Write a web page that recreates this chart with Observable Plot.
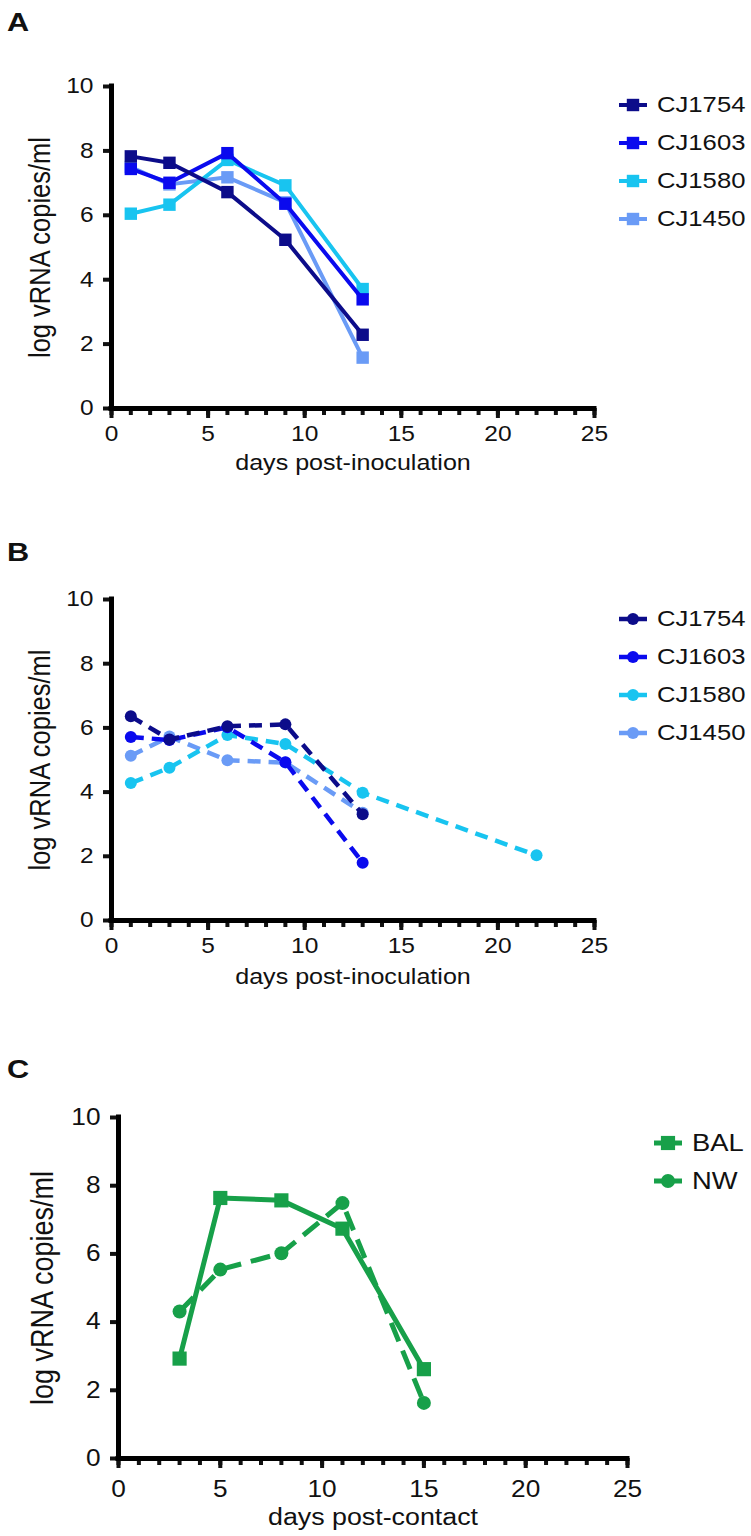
<!DOCTYPE html>
<html><head><meta charset="utf-8">
<script src="https://cdn.jsdelivr.net/npm/d3@7"></script>
<script src="https://cdn.jsdelivr.net/npm/@observablehq/plot@0.6"></script>
<style>
body{margin:0;background:#fff;font-family:"Liberation Sans",Arial,Helvetica,sans-serif;color:#111;}
#page{position:relative;width:751px;height:1536px;overflow:hidden;background:#fff;}
.panel{position:absolute;left:0;}
.letter{position:absolute;font-weight:bold;font-size:26px;line-height:1;transform:scaleX(1.18);transform-origin:left top;}
.legend{position:absolute;}
.legend .row{display:flex;align-items:center;height:38px;}
.legend .row span{display:inline-block;transform:scaleX(1.14);transform-origin:left center;white-space:nowrap;}
.legend svg{display:block;margin-right:10px;}
</style></head><body><div id="page"></div>
<script>
// ---------- data ----------
const xTicks = [0, 5, 10, 15, 20, 25];
const yTicks = [0, 2, 4, 6, 8, 10];
const animals = ["CJ1754", "CJ1603", "CJ1580", "CJ1450"];
const animalColors = ["#0c0c8a", "#0a0aee", "#18c4f0", "#6a9bf6"];

// Panel A (days post-inoculation, solid squares)
const daysA = [1, 3, 6, 9, 13];
const A_CJ1754 = [7.83, 7.63, 6.72, 5.24, 2.29];
const A_CJ1603 = [7.44, 7.01, 7.93, 6.36, 3.39];
const A_CJ1580 = [6.05, 6.33, 7.72, 6.93, 3.71];
const A_CJ1450 = [7.50, 6.96, 7.18, 6.40, 1.58];

// Panel B (days post-inoculation, dashed circles)
const daysB = [1, 3, 6, 9, 13];
const daysB_CJ1580 = [1, 3, 6, 9, 13, 22];
const B_CJ1754 = [6.36, 5.64, 6.05, 6.11, 3.31];
const B_CJ1603 = [5.72, 5.62, 6.02, 4.93, 1.80];
const B_CJ1580 = [4.28, 4.76, 5.78, 5.50, 3.98, 2.03];
const B_CJ1450 = [5.13, 5.73, 4.99, 4.92, 3.36];

// Panel C (days post-contact)
const daysC = [3, 5, 8, 11, 15];
const C_BAL = [2.93, 7.64, 7.57, 6.74, 2.62];
const C_NW = [4.31, 5.54, 6.02, 7.49, 1.63];
const greenColor = "#17a049";

// ---------- helpers ----------
const page = document.getElementById("page");
const toRows = (days, vals) => days.map((d, i) => ({day: d, value: vals[i]}));
const STRETCH = 1.14;

function makePanel(cfg) {
  const marginTop = cfg.y10 - cfg.top;
  const marginLeft = cfg.x0;
  const marginRight = 751 - cfg.x25;
  const marginBottom = cfg.height - marginTop - (cfg.y0 - cfg.y10);
  const marks = [];
  marks.push(Plot.axisX({ticks: d3.range(0, 26), tickSize: 7, tickFormat: () => "", strokeWidth: 4, label: null}));
  marks.push(Plot.axisX({ticks: xTicks, tickSize: 10, tickPadding: cfg.xPad, fontSize: cfg.tickFont, strokeWidth: 4, label: null, color: "#111"}));
  marks.push(Plot.axisY({ticks: yTicks, tickSize: 8, tickPadding: 10, fontSize: cfg.tickFont, strokeWidth: 4, label: null, color: "#111"}));
  marks.push(Plot.ruleY([0], {stroke: "#000", strokeWidth: 5, strokeLinecap: "square"}));
  marks.push(Plot.ruleX([0], {stroke: "#000", strokeWidth: 5, strokeLinecap: "square"}));
  for (const s of cfg.series) {
    marks.push(Plot.line(s.rows, {x: "day", y: "value", stroke: s.color, strokeWidth: s.width,
      strokeDasharray: s.dash || null, strokeLinecap: s.dash ? "butt" : "round"}));
    marks.push(Plot.dot(s.rows, {x: "day", y: "value", symbol: s.symbol, r: s.r, fill: s.color, stroke: "none"}));
  }
  marks.push(Plot.text([cfg.yLabel], {text: d => d, frameAnchor: "left", textAnchor: "middle", lineAnchor: "middle",
    rotate: -90, dx: -(cfg.x0 - cfg.yLabelX), fontSize: cfg.yLabelFont * STRETCH, fill: "#111"}));
  marks.push(Plot.text([cfg.xLabel], {text: d => d, frameAnchor: "bottom", textAnchor: "middle", lineAnchor: "middle",
    dy: cfg.xLabelDy, fontSize: cfg.labelFont, fill: "#111"}));

  const chart = Plot.plot({
    width: 751, height: cfg.height,
    marginTop, marginLeft, marginRight, marginBottom,
    x: {domain: [0, 25]},
    y: {domain: [0, 10]},
    style: {fontFamily: '"Liberation Sans", Arial, sans-serif', background: "transparent", color: "#111", overflow: "visible"},
    marks
  });
  const wrap = document.createElement("div");
  wrap.className = "panel";
  wrap.style.top = cfg.top + "px";
  wrap.appendChild(chart);
  page.appendChild(wrap);
  // the reference's lettering is horizontally widened: stretch upright texts,
  // and give the rotated title taller glyphs at its original length
  chart.querySelectorAll("text").forEach(t => {
    const tr = t.getAttribute("transform") || "";
    const w = t.getComputedTextLength();
    if (!(w > 0)) return;
    const target = tr.includes("rotate") ? w / STRETCH : w * STRETCH;
    t.setAttribute("textLength", target.toFixed(1));
    t.setAttribute("lengthAdjust", "spacingAndGlyphs");
  });

  const letter = document.createElement("div");
  letter.className = "letter";
  letter.textContent = cfg.letter;
  letter.style.left = "7px";
  letter.style.top = cfg.letterTop + "px";
  page.appendChild(letter);

  const leg = document.createElement("div");
  leg.className = "legend";
  leg.style.left = cfg.legendX + "px";
  leg.style.top = (cfg.legendY - 19) + "px";
  for (const s of cfg.legend) {
    const row = document.createElement("div");
    row.className = "row";
    row.style.fontSize = cfg.legendFont + "px";
    const sym = d3.create("svg").attr("width", 28).attr("height", 20);
    sym.append("line").attr("x1", 0).attr("x2", 28).attr("y1", 10).attr("y2", 10)
      .attr("stroke", s.color).attr("stroke-width", s.width);
    if (s.symbol === "square") {
      const side = s.r * Math.sqrt(Math.PI);
      sym.append("rect").attr("x", 14 - side / 2).attr("y", 10 - side / 2).attr("width", side).attr("height", side).attr("fill", s.color);
    } else {
      sym.append("circle").attr("cx", 14).attr("cy", 10).attr("r", s.r).attr("fill", s.color);
    }
    row.appendChild(sym.node());
    const t = document.createElement("span");
    t.textContent = s.name;
    row.appendChild(t);
    leg.appendChild(row);
  }
  page.appendChild(leg);
}

// ---------- panel A ----------
const seriesA = [A_CJ1754, A_CJ1603, A_CJ1580, A_CJ1450].map((v, i) => ({
  name: animals[i], color: animalColors[i], rows: toRows(daysA, v), symbol: "square", r: 7, width: 4
}));
makePanel({
  letter: "A", letterTop: 9, top: 56, height: 432, x0: 111, x25: 594, y10: 86, y0: 408,
  series: seriesA.slice().reverse(), legend: seriesA, legendX: 619, legendY: 105, legendFont: 22.5,
  xLabel: "days post-inoculation", yLabel: "log vRNA copies/ml", xLabelDy: 54, yLabelX: 40, xPad: 7,
  tickFont: 21.5, labelFont: 22, yLabelFont: 25.5
});

// ---------- panel B ----------
const seriesB = [B_CJ1754, B_CJ1603, B_CJ1580, B_CJ1450].map((v, i) => ({
  name: animals[i], color: animalColors[i], rows: toRows(i === 2 ? daysB_CJ1580 : daysB, v),
  symbol: "circle", r: 6, width: 4.5, dash: "13,8"
}));
makePanel({
  letter: "B", letterTop: 539, top: 569, height: 431, x0: 111, x25: 594, y10: 599, y0: 920,
  series: seriesB.slice().reverse(), legend: seriesB, legendX: 619, legendY: 619, legendFont: 22.5,
  xLabel: "days post-inoculation", yLabel: "log vRNA copies/ml", xLabelDy: 56, yLabelX: 40, xPad: 7,
  tickFont: 21.5, labelFont: 22, yLabelFont: 25.5
});

// ---------- panel C ----------
const seriesC = [
  {name: "BAL", color: greenColor, rows: toRows(daysC, C_BAL), symbol: "square", r: 8, width: 5},
  {name: "NW", color: greenColor, rows: toRows(daysC, C_NW), symbol: "circle", r: 7, width: 5, dash: "20,10"}
];
makePanel({
  letter: "C", letterTop: 1056, top: 1087, height: 449, x0: 118, x25: 627, y10: 1117, y0: 1458,
  series: seriesC, legend: seriesC, legendX: 654, legendY: 1143, legendFont: 24,
  xLabel: "days post-contact", yLabel: "log vRNA copies/ml", xLabelDy: 59, yLabelX: 43, xPad: 12,
  tickFont: 23, labelFont: 23.5, yLabelFont: 27
});
</script>
</body></html>
